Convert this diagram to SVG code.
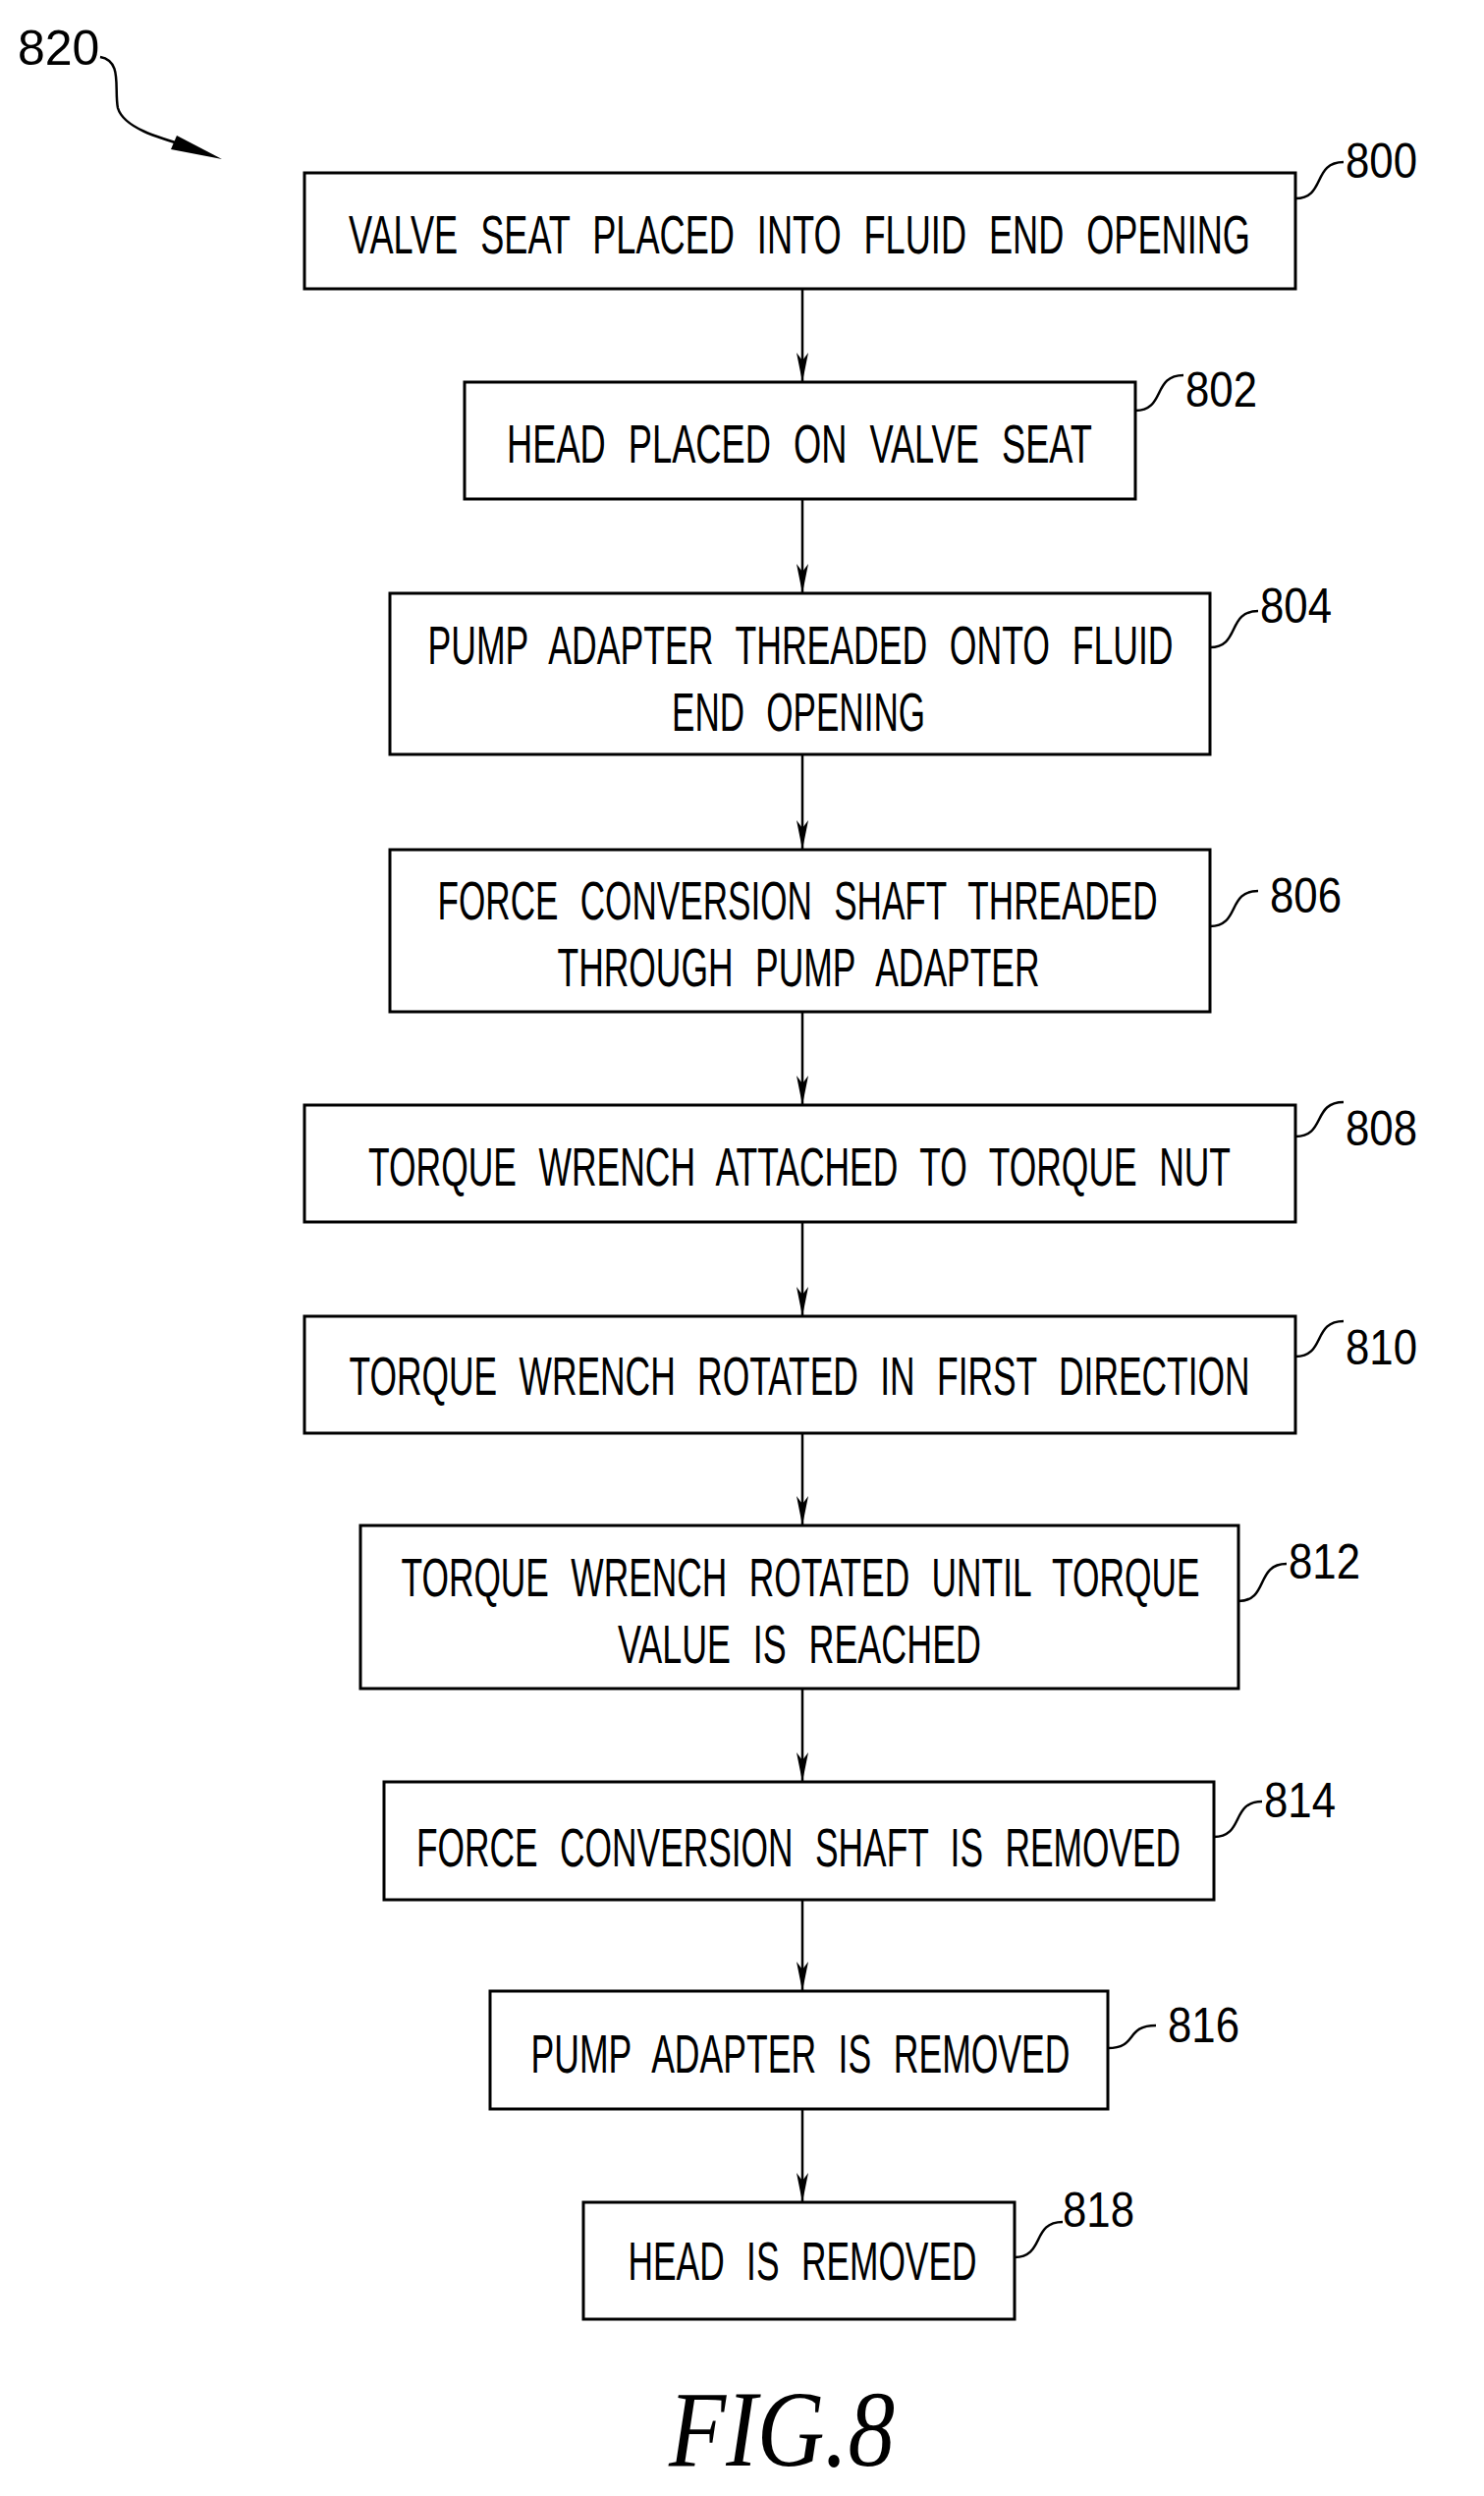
<svg xmlns="http://www.w3.org/2000/svg" width="1511" height="2541" viewBox="0 0 1511 2541">
<style>
.b{fill:#fff;stroke:#000;stroke-width:3}
.t{font-family:"Liberation Sans",Arial,sans-serif;font-size:56px;fill:#000;text-anchor:middle;word-spacing:20px}
.n{font-family:"Liberation Sans",Arial,sans-serif;font-size:50px;fill:#000}
.l{fill:none;stroke:#000;stroke-width:2.5}
.c{fill:none;stroke:#000;stroke-width:2.5;marker-end:url(#a)}
</style>
<defs><marker id="a" markerWidth="30" markerHeight="12" refX="30" refY="6" orient="auto" markerUnits="userSpaceOnUse" viewBox="0 0 30 12"><path d="M0,0 L8,6 L0,12 L30,6 Z" fill="#000"/></marker></defs>
<rect width="1511" height="2541" fill="#fff"/>
<g id="connectors">
<line class="c" x1="817" y1="294" x2="817" y2="389"/>
<line class="c" x1="817" y1="508" x2="817" y2="604"/>
<line class="c" x1="817" y1="768" x2="817" y2="865"/>
<line class="c" x1="817" y1="1030" x2="817" y2="1125"/>
<line class="c" x1="817" y1="1244" x2="817" y2="1340"/>
<line class="c" x1="817" y1="1459" x2="817" y2="1553"/>
<line class="c" x1="817" y1="1719" x2="817" y2="1814"/>
<line class="c" x1="817" y1="1934" x2="817" y2="2027"/>
<line class="c" x1="817" y1="2147" x2="817" y2="2242"/>
</g>
<g id="n820"><text class="n" x="18" y="66">820</text><path class="l" d="M102,58 C125,62 116,90 120,110 C126,130 160,140 195,150"/><path d="M180,138 L226,162 L174,152 Z" fill="#000"/></g>
<g id="n800"><rect class="b" x="310" y="176" width="1009" height="118"/><text class="t" x="814" y="258" textLength="918" lengthAdjust="spacingAndGlyphs">VALVE SEAT PLACED INTO FLUID END OPENING</text><path class="l" d="M1319,202 C1350,202 1336,165 1368,165"/><text class="n" x="1370" y="181" textLength="73" lengthAdjust="spacingAndGlyphs">800</text></g>
<g id="n802"><rect class="b" x="473" y="389" width="683" height="119"/><text class="t" x="814" y="471" textLength="596" lengthAdjust="spacingAndGlyphs">HEAD PLACED ON VALVE SEAT</text><path class="l" d="M1156,418 C1187,418 1173,382 1205,382"/><text class="n" x="1207" y="414" textLength="73" lengthAdjust="spacingAndGlyphs">802</text></g>
<g id="n804"><rect class="b" x="397" y="604" width="835" height="164"/><text class="t" x="815" y="676" textLength="759" lengthAdjust="spacingAndGlyphs">PUMP ADAPTER THREADED ONTO FLUID</text><text class="t" x="813" y="744" textLength="258" lengthAdjust="spacingAndGlyphs">END OPENING</text><path class="l" d="M1232,659 C1263,659 1249,622 1281,622"/><text class="n" x="1283" y="634" textLength="73" lengthAdjust="spacingAndGlyphs">804</text></g>
<g id="n806"><rect class="b" x="397" y="865" width="835" height="165"/><text class="t" x="812" y="936" textLength="733" lengthAdjust="spacingAndGlyphs">FORCE CONVERSION SHAFT THREADED</text><text class="t" x="813" y="1004" textLength="491" lengthAdjust="spacingAndGlyphs">THROUGH PUMP ADAPTER</text><path class="l" d="M1232,943 C1263,943 1249,907 1281,907"/><text class="n" x="1293" y="929" textLength="73" lengthAdjust="spacingAndGlyphs">806</text></g>
<g id="n808"><rect class="b" x="310" y="1125" width="1009" height="119"/><text class="t" x="814" y="1207" textLength="878" lengthAdjust="spacingAndGlyphs">TORQUE WRENCH ATTACHED TO TORQUE NUT</text><path class="l" d="M1319,1157 C1350,1157 1336,1122 1368,1122"/><text class="n" x="1370" y="1166" textLength="73" lengthAdjust="spacingAndGlyphs">808</text></g>
<g id="n810"><rect class="b" x="310" y="1340" width="1009" height="119"/><text class="t" x="814" y="1420" textLength="917" lengthAdjust="spacingAndGlyphs">TORQUE WRENCH ROTATED IN FIRST DIRECTION</text><path class="l" d="M1319,1381 C1350,1381 1336,1345 1368,1345"/><text class="n" x="1370" y="1389" textLength="73" lengthAdjust="spacingAndGlyphs">810</text></g>
<g id="n812"><rect class="b" x="367" y="1553" width="894" height="166"/><text class="t" x="815" y="1625" textLength="813" lengthAdjust="spacingAndGlyphs">TORQUE WRENCH ROTATED UNTIL TORQUE</text><text class="t" x="814" y="1693" textLength="370" lengthAdjust="spacingAndGlyphs">VALUE IS REACHED</text><path class="l" d="M1261,1630 C1292,1630 1278,1592 1310,1592"/><text class="n" x="1312" y="1607" textLength="73" lengthAdjust="spacingAndGlyphs">812</text></g>
<g id="n814"><rect class="b" x="391" y="1814" width="845" height="120"/><text class="t" x="813" y="1900" textLength="778" lengthAdjust="spacingAndGlyphs">FORCE CONVERSION SHAFT IS REMOVED</text><path class="l" d="M1236,1870 C1267,1870 1253,1834 1285,1834"/><text class="n" x="1287" y="1850" textLength="73" lengthAdjust="spacingAndGlyphs">814</text></g>
<g id="n816"><rect class="b" x="499" y="2027" width="629" height="120"/><text class="t" x="815" y="2110" textLength="549" lengthAdjust="spacingAndGlyphs">PUMP ADAPTER IS REMOVED</text><path class="l" d="M1128,2085 C1159,2085 1145,2062 1177,2062"/><text class="n" x="1189" y="2079" textLength="73" lengthAdjust="spacingAndGlyphs">816</text></g>
<g id="n818"><rect class="b" x="594" y="2242" width="439" height="119"/><text class="t" x="817" y="2321" textLength="355" lengthAdjust="spacingAndGlyphs">HEAD IS REMOVED</text><path class="l" d="M1033,2298 C1064,2298 1050,2262 1082,2262"/><text class="n" x="1082" y="2267" textLength="73" lengthAdjust="spacingAndGlyphs">818</text></g>
<text x="796" y="2510" font-family="'Liberation Serif',serif" font-style="italic" font-size="110" text-anchor="middle" textLength="230" lengthAdjust="spacingAndGlyphs">FIG.8</text>
</svg>
